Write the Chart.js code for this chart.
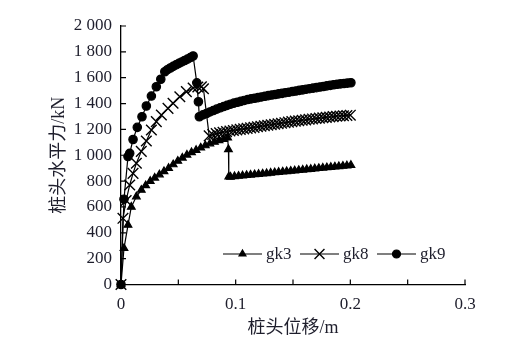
<!DOCTYPE html>
<html>
<head>
<meta charset="utf-8">
<script src="https://cdn.jsdelivr.net/npm/chart.js@4.4.1/dist/chart.umd.min.js"></script>
<style>
html, body { margin: 0; padding: 0; background: #fff; }
#pileChart { display: block; }
</style>
</head>
<body>
<canvas id="pileChart" width="509" height="350"></canvas>
<script>
// Pile head load vs displacement
const seriesNames = ['gk3', 'gk8', 'gk9'];

const gk3X = [0, 0.0026, 0.0061, 0.009, 0.0134, 0.0177, 0.0215, 0.0255, 0.0294, 0.0335, 0.0375, 0.0415,
    0.0455, 0.0495, 0.0535, 0.0575, 0.0615, 0.0655, 0.0695, 0.0735, 0.0775, 0.0815, 0.0855, 0.0895, 0.093,
    0.0937, 0.094, 0.0955, 0.099, 0.1025, 0.106, 0.1095, 0.113, 0.1165, 0.12, 0.1235, 0.127, 0.1305, 0.134,
    0.1375, 0.141, 0.1445, 0.148, 0.1515, 0.155, 0.1585, 0.162, 0.1655, 0.169, 0.1725, 0.176, 0.1795, 0.183,
    0.1865, 0.19, 0.1935, 0.197, 0.2005];
const gk3Y = [0, 280, 460, 600, 680, 731, 766, 800, 825, 850, 875, 900,
    928, 955, 980, 1003, 1022, 1040, 1058, 1075, 1090, 1103, 1115, 1125, 1135,
    1045, 835, 832, 836, 839, 842, 845, 848, 851, 854, 857, 860, 863, 866,
    869, 872, 875, 878, 881, 884, 887, 890, 893, 896, 899, 902, 905, 908,
    911, 914, 917, 920, 923];

const gk8X = [0, 0.0017, 0.0045, 0.0076, 0.0105, 0.0134, 0.0177, 0.0221, 0.0265, 0.0308, 0.0352, 0.041,
    0.0454, 0.0513, 0.057, 0.0629, 0.067, 0.0701, 0.0719, 0.0769, 0.08, 0.083, 0.086, 0.089, 0.092, 0.095,
    0.098, 0.101, 0.104, 0.107, 0.11, 0.113, 0.116, 0.119, 0.122, 0.125, 0.128, 0.131, 0.134, 0.137, 0.14,
    0.143, 0.146, 0.149, 0.152, 0.155, 0.158, 0.161, 0.164, 0.167, 0.17, 0.173, 0.176, 0.179, 0.182, 0.185,
    0.188, 0.191, 0.194, 0.197, 0.2];
const gk8Y = [0, 512, 650, 770, 860, 938, 1030, 1110, 1195, 1260, 1311, 1363,
    1402, 1453, 1492, 1520, 1528, 1530, 1515, 1150, 1160, 1167, 1173, 1178, 1183, 1188,
    1192, 1196, 1200, 1204, 1208, 1212, 1216, 1220, 1224, 1228, 1232, 1236, 1240, 1244, 1248,
    1252, 1256, 1260, 1264, 1267, 1271, 1274, 1278, 1281, 1284, 1287, 1290, 1293, 1296, 1299,
    1302, 1304, 1306, 1308, 1310];

const gk9X = [0, 0.0026, 0.0061, 0.0076, 0.0105, 0.0142, 0.0183, 0.0221, 0.0265, 0.0308, 0.0347, 0.0382,
    0.0405, 0.043, 0.0455, 0.048, 0.0505, 0.053, 0.0555, 0.058, 0.0605, 0.0629, 0.0661, 0.0675, 0.0683,
    0.0715, 0.0745, 0.0775, 0.0805, 0.0835, 0.0865, 0.0895, 0.0925, 0.0955, 0.0985, 0.1015, 0.1045, 0.1075,
    0.1105, 0.1135, 0.1165, 0.1195, 0.1225, 0.1255, 0.1285, 0.1315, 0.1345, 0.1375, 0.1405, 0.1435, 0.1465,
    0.1495, 0.1525, 0.1555, 0.1585, 0.1615, 0.1645, 0.1675, 0.1705, 0.1735, 0.1765, 0.1795, 0.1825, 0.1855,
    0.1885, 0.1915, 0.1945, 0.1975, 0.2005];
const gk9Y = [0, 660, 990, 1015, 1122, 1216, 1298, 1381, 1458, 1530, 1588, 1646,
    1662, 1675, 1688, 1700, 1711, 1722, 1733, 1744, 1756, 1768, 1560, 1414, 1298,
    1312, 1323, 1335, 1346, 1357, 1367, 1377, 1386, 1395, 1403, 1410, 1417, 1424,
    1431, 1436, 1441, 1446, 1451, 1456, 1461, 1466, 1470, 1475, 1479, 1484, 1488,
    1493, 1497, 1502, 1506, 1511, 1515, 1519, 1523, 1528, 1532, 1537, 1541, 1545,
    1549, 1552, 1555, 1558, 1561];

const xTitle = '桩头位移/m';
const yTitle = '桩头水平力/kN';

const textColor = '#1e1e2c';
const serifFont = '"Liberation Serif", "Times New Roman", "Noto Sans CJK SC", serif';

function toPoints(xs, ys) {
    return xs.map(function(x, i) { return { x: x, y: ys[i] }; });
}

function formatLoad(v) {
    if (v >= 1000) {
        return Math.floor(v / 1000) + ' ' + String(v % 1000).padStart(3, '0');
    }
    return String(v);
}

/**
 * Tick marks pointing into the plot
 */
const innerTicks = {
    id: 'innerTicks',
    afterDraw: function(chart) {
        const ctx = chart.ctx;
        const xs = chart.scales.x;
        const ys = chart.scales.y;
        const area = chart.chartArea;
        ctx.save();
        ctx.strokeStyle = '#000';
        ctx.lineWidth = 1.2;
        ctx.beginPath();
        xs.ticks.forEach(function(t) {
            const px = xs.getPixelForValue(t.value);
            ctx.moveTo(px, area.bottom);
            ctx.lineTo(px, area.bottom - 5);
        });
        ys.ticks.forEach(function(t) {
            const py = ys.getPixelForValue(t.value);
            ctx.moveTo(area.left, py);
            ctx.lineTo(area.left + 5, py);
        });
        ctx.stroke();
        ctx.restore();
    }
};

/**
 * Legend with a line sample and marker, inside the plot
 */
const lineLegend = {
    id: 'lineLegend',
    afterDraw: function(chart) {
        const ctx = chart.ctx;
        const starts = [223, 300, 377];
        const y = 254;
        chart.data.datasets.forEach(function(ds, i) {
            const x0 = starts[i];
            ctx.save();
            ctx.strokeStyle = ds.borderColor;
            ctx.lineWidth = ds.borderWidth;
            ctx.beginPath();
            ctx.moveTo(x0, y);
            ctx.lineTo(x0 + 39, y);
            ctx.stroke();
            ctx.fillStyle = ds.pointBackgroundColor;
            ctx.strokeStyle = ds.pointBorderColor;
            ctx.lineWidth = ds.pointBorderWidth;
            Chart.helpers.drawPoint(ctx, {
                pointStyle: ds.pointStyle,
                radius: ds.legendRadius,
                borderWidth: ds.pointBorderWidth,
                rotation: 0
            }, x0 + 19.5, y);
            ctx.fillStyle = textColor;
            ctx.font = '17px ' + serifFont;
            ctx.textBaseline = 'middle';
            ctx.textAlign = 'left';
            ctx.fillText(ds.label, x0 + 43, y + 1);
            ctx.restore();
        });
    }
};

function makeDataset(name, xs, ys, style, radius, legendRadius, markerWidth) {
    return {
        label: name,
        data: toPoints(xs, ys),
        showLine: true,
        borderColor: '#000',
        borderWidth: 1.2,
        pointStyle: style,
        pointRadius: radius,
        legendRadius: legendRadius,
        pointBackgroundColor: '#000',
        pointBorderColor: '#000',
        pointBorderWidth: markerWidth,
        clip: false
    };
}

function renderPileChart() {
    const ctx = document.getElementById('pileChart').getContext('2d');
    new Chart(ctx, {
        type: 'scatter',
        data: {
            datasets: [
                makeDataset(seriesNames[0], gk3X, gk3Y, 'triangle', 4.4, 4, 1.2),
                makeDataset(seriesNames[1], gk8X, gk8Y, 'crossRot', 7.5, 7, 1.4),
                makeDataset(seriesNames[2], gk9X, gk9Y, 'circle', 4.2, 4, 1.2)
            ]
        },
        options: {
            responsive: false,
            animation: false,
            devicePixelRatio: 1,
            layout: {
                padding: { top: 26, right: 44, bottom: 0, left: 0 }
            },
            plugins: {
                legend: { display: false },
                tooltip: { enabled: false }
            },
            scales: {
                x: {
                    type: 'linear',
                    min: 0,
                    max: 0.3,
                    afterFit: function(scale) { scale.height = 65.5; },
                    grid: { display: false, drawTicks: false },
                    border: { display: true, color: '#000', width: 1.3 },
                    ticks: {
                        stepSize: 0.05,
                        padding: 10,
                        color: textColor,
                        maxRotation: 0,
                        autoSkip: false,
                        font: { family: serifFont, size: 17 },
                        callback: function(v) {
                            const r = Math.round(v * 100);
                            return r % 10 === 0 ? String(r / 100) : '';
                        }
                    },
                    title: {
                        display: true,
                        text: xTitle,
                        color: textColor,
                        font: { family: serifFont, size: 18 },
                        padding: { top: 0, bottom: 11 }
                    }
                },
                y: {
                    type: 'linear',
                    min: 0,
                    max: 2000,
                    afterFit: function(scale) { scale.width = 121; },
                    grid: { display: false, drawTicks: false },
                    border: { display: true, color: '#000', width: 1.3 },
                    ticks: {
                        stepSize: 200,
                        padding: 9,
                        color: textColor,
                        autoSkip: false,
                        font: { family: serifFont, size: 17 },
                        callback: function(v) { return formatLoad(v); }
                    },
                    title: {
                        display: true,
                        text: yTitle,
                        color: textColor,
                        font: { family: serifFont, size: 18 },
                        padding: { top: 48, bottom: 0 }
                    }
                }
            }
        },
        plugins: [innerTicks, lineLegend]
    });
}

renderPileChart();
</script>
</body>
</html>
